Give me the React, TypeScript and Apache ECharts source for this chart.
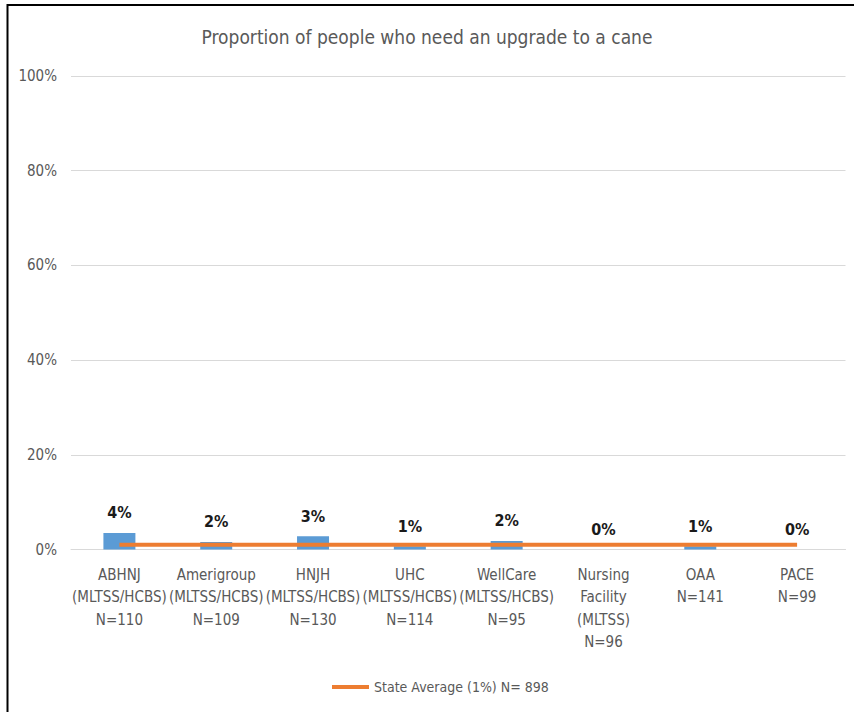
import React, { useEffect, useRef } from "react";
import * as echarts from "echarts";

const categories = [
  "ABHNJ\n(MLTSS/HCBS)\nN=110",
  "Amerigroup\n(MLTSS/HCBS)\nN=109",
  "HNJH\n(MLTSS/HCBS)\nN=130",
  "UHC\n(MLTSS/HCBS)\nN=114",
  "WellCare\n(MLTSS/HCBS)\nN=95",
  "Nursing\nFacility\n(MLTSS)\nN=96",
  "OAA\nN=141",
  "PACE\nN=99",
];
const planValues = [3.5, 1.6, 2.8, 0.7, 1.8, 0, 0.7, 0];
const stateAverage = [1, 1, 1, 1, 1, 1, 1, 1];
const stateAverageName = "State Average (1%) N= 898";
const titleText = "Proportion of people who need an upgrade to a cane";

const FONT = "'Liberation Sans Narrow', 'DejaVu Sans Condensed', 'Open Sans', sans-serif";

export default function App() {
  const ref = useRef<HTMLDivElement>(null);
  useEffect(() => {
    if (!ref.current) return;
    const chart = echarts.init(ref.current, undefined, { renderer: "svg" });
    chart.setOption({
      animation: false,
      backgroundColor: "#ffffff",
      textStyle: { fontFamily: FONT },
      title: {
        text: titleText,
        left: "center",
        top: 22,
        textStyle: { fontFamily: FONT, fontSize: 19, fontWeight: "normal", color: "#595959" },
      },
      graphic: [
        { type: "line", shape: { x1: 7, y1: 5, x2: 854, y2: 5 }, style: { stroke: "#000", lineWidth: 2 } },
        { type: "line", shape: { x1: 7.5, y1: 4, x2: 7.5, y2: 712 }, style: { stroke: "#000", lineWidth: 2 } },
      ],
      legend: {
        data: [stateAverageName],
        left: 327,
        top: 675,
        icon: "rect",
        itemWidth: 37,
        itemHeight: 4,
        textStyle: { fontFamily: FONT, fontSize: 14, color: "#595959" },
      },
      grid: { left: 71, right: 8.5, top: 76, bottom: 162.5, containLabel: false },
      xAxis: {
        type: "category",
        data: categories,
        axisLine: { lineStyle: { color: "#d9d9d9", width: 1 } },
        axisTick: { show: false },
        axisLabel: {
          interval: 0,
          margin: 14,
          color: "#595959",
          fontFamily: FONT,
          fontSize: 15,
          lineHeight: 22.5,
        },
      },
      yAxis: {
        type: "value",
        min: 0,
        max: 100,
        interval: 20,
        axisLine: { show: false },
        axisTick: { show: false },
        splitLine: { lineStyle: { color: "#d9d9d9", width: 1 } },
        axisLabel: {
          formatter: "{value}%",
          margin: 14,
          color: "#595959",
          fontFamily: FONT,
          fontSize: 15,
        },
      },
      series: [
        {
          type: "bar",
          data: planValues,
          barWidth: 32,
          itemStyle: { color: "#5b9bd5" },
          label: {
            show: true,
            position: "top",
            distance: 12,
            formatter: (p: any) => Math.round(p.value) + "%",
            fontFamily: FONT,
            fontSize: 16,
            fontWeight: "bold",
            color: "#1a1a1a",
          },
          z: 2,
        },
        {
          type: "line",
          name: stateAverageName,
          data: stateAverage,
          symbol: "none",
          lineStyle: { color: "#ed7d31", width: 4 },
          itemStyle: { color: "#ed7d31" },
          z: 3,
        },
      ],
    });
    return () => chart.dispose();
  }, []);
  return (
    <div
      ref={ref}
      style={{ position: "absolute", left: 0, top: 0, width: 854, height: 712 }}
    />
  );
}
